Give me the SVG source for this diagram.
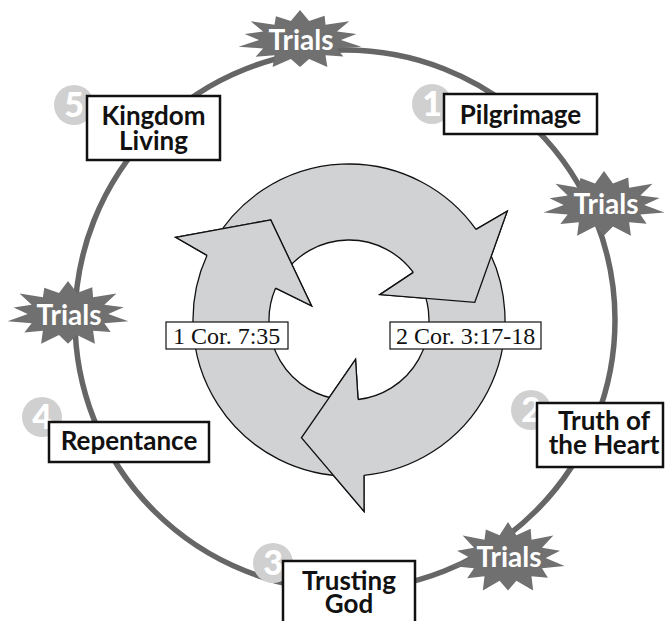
<svg xmlns="http://www.w3.org/2000/svg" width="665" height="621" viewBox="0 0 665 621">
<style>
.ring{fill:none;stroke:#666;stroke-width:5.5}
.arrow{fill:#d1d2d4;stroke:#111;stroke-width:1.3;stroke-linejoin:miter}
.ref rect{fill:#fff;stroke:#111;stroke-width:1.2}
.ref text{font-family:"Liberation Serif","Times New Roman",serif;font-size:24px;fill:#111}
.burst{fill:#707070}
.trials{font-family:Lato,"Open Sans",sans-serif;font-weight:700;font-size:28px;fill:#fff;text-anchor:middle}
.num circle{fill:#d0d0d0}
.num text{font-family:Lato,"Open Sans",sans-serif;font-weight:900;font-size:34px;fill:#fff;text-anchor:middle}
.box rect{fill:#fff;stroke:#111;stroke-width:2.5}
.box text{font-family:Lato,"Open Sans",sans-serif;font-weight:700;font-size:26px;fill:#111;text-anchor:middle}
</style>
<defs>
<polygon id="star" points="0,-1 0.145,-0.634 0.391,-0.811 0.405,-0.508 0.782,-0.623 0.586,-0.282 0.897,-0.204 0.65,0 0.975,0.222 0.586,0.282 0.688,0.548 0.405,0.508 0.434,0.901 0.145,0.634 0,0.9 -0.145,0.634 -0.434,0.901 -0.405,0.508 -0.704,0.561 -0.586,0.282 -0.975,0.222 -0.65,0 -0.878,-0.2 -0.586,-0.282 -0.782,-0.623 -0.405,-0.508 -0.382,-0.793 -0.145,-0.634"/>
<path id="body" d="M -135.1,-78 A 156 156 0 0 1 127.0,-90.6 L 158.2,-108.7 L 125.8,-17.7 L 30.9,-25.4 L 64.3,-47.6 A 80 80 0 0 0 -65.5,-45.9 Z"/>
<path id="head" d="M 127.0,-90.6 L 158.2,-108.7 L 125.8,-17.7 L 30.9,-25.4 L 64.3,-47.6"/>
</defs>

<g id="connectors">
<circle class="ring" cx="345" cy="320" r="270"/>
</g>

<g id="cycle" transform="translate(349,320)">
<use href="#body" class="arrow"/>
<use href="#body" class="arrow" transform="rotate(120)"/>
<use href="#body" class="arrow" transform="rotate(240)"/>
<use href="#head" class="arrow"/>
<use href="#head" class="arrow" transform="rotate(120)"/>
<use href="#head" class="arrow" transform="rotate(240)"/>
</g>

<g id="ref1" class="ref">
<rect x="166" y="322" width="122" height="27"/>
<text x="173" y="344">1 Cor. 7:35</text>
</g>
<g id="ref2" class="ref">
<rect x="390" y="322" width="151" height="27"/>
<text x="396" y="344">2 Cor. 3:17-18</text>
</g>

<g id="trials-top">
<use href="#star" class="burst" transform="translate(300,40) scale(63,30)"/>
<text class="trials" x="301" y="50">Trials</text>
</g>
<g id="trials-right">
<use href="#star" class="burst" transform="translate(604,205) scale(62,34)"/>
<text class="trials" x="606" y="214">Trials</text>
</g>
<g id="trials-left">
<use href="#star" class="burst" transform="translate(68,314) scale(62,33)"/>
<text class="trials" x="69" y="325">Trials</text>
</g>
<g id="trials-bottom">
<use href="#star" class="burst" transform="translate(508,558) scale(58,36)"/>
<text class="trials" x="509" y="567">Trials</text>
</g>

<g id="step1">
<g class="num"><circle cx="432" cy="104" r="20"/><text x="432" y="116">1</text></g>
<g class="box"><rect x="444" y="94" width="153" height="40"/><text x="520.5" y="124">Pilgrimage</text></g>
</g>
<g id="step2">
<g class="num"><circle cx="531" cy="410" r="20"/><text x="531" y="422">2</text></g>
<g class="box"><rect x="537" y="403" width="126" height="64"/><text x="604" y="430">Truth of</text><text x="604" y="454">the Heart</text></g>
</g>
<g id="step3">
<g class="num"><circle cx="273" cy="563" r="20"/><text x="273" y="575">3</text></g>
<g class="box"><rect x="283" y="561" width="132" height="70"/><text x="349" y="590">Trusting</text><text x="349" y="613">God</text></g>
</g>
<g id="step4">
<g class="num"><circle cx="42" cy="417" r="20"/><text x="42" y="429">4</text></g>
<g class="box"><rect x="49" y="422" width="160" height="40"/><text x="129" y="450">Repentance</text></g>
</g>
<g id="step5">
<g class="num"><circle cx="74" cy="105" r="20"/><text x="74" y="117">5</text></g>
<g class="box"><rect x="87" y="96" width="133" height="64"/><text x="153.5" y="125">Kingdom</text><text x="153.5" y="150">Living</text></g>
</g>
</svg>
